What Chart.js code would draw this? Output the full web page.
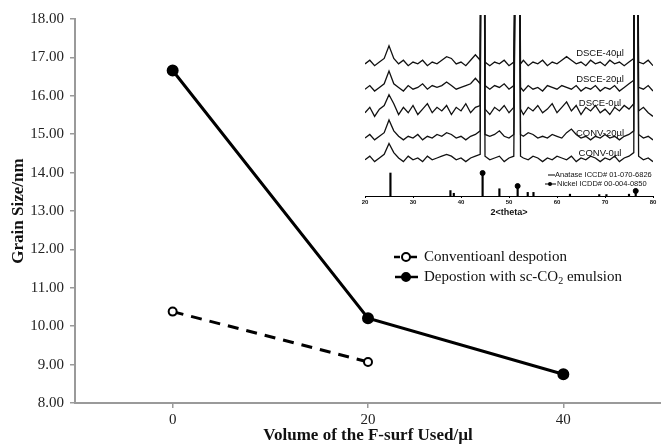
<!DOCTYPE html>
<html>
<head>
<meta charset="utf-8">
<script src="https://cdn.jsdelivr.net/npm/chart.js@4.4.1/dist/chart.umd.min.js"></script>
<style>
  body { margin: 0; background: #fff; }
  #wrap { position: relative; width: 661px; height: 446px; }
  #inset { position: absolute; left: 350px; top: 0; pointer-events: none; }
</style>
</head>
<body>
<div id="wrap">
  <canvas id="main" width="661" height="446"></canvas>
  <canvas id="inset" width="311" height="220"></canvas>
</div>
<script>
// main chart data
const volumes = ['0', '20', '40'];
const conventional = [10.38, 9.07, null];
const scCO2 = [16.66, 10.21, 8.75];

// inset XRD patterns (2theta in degrees, intensity in arbitrary units)
const theta = [20, 21, 22, 23, 24, 25, 26, 27, 28, 29, 30, 31, 32, 33, 34, 35, 36, 37, 38, 39,
  40, 41, 42, 43, 44, 44.2, 44.8, 45, 46, 47, 48, 49, 50, 51, 51.5, 52.1, 52.4, 53, 54, 55,
  56, 57, 58, 59, 60, 61, 62, 63, 64, 65, 66, 67, 68, 69, 70, 71, 72, 73, 74, 75,
  76, 76.1, 76.7, 77, 78, 79, 80];
const conv0 = [20, 22, 19, 21, 23, 29, 24, 21, 19, 22, 20, 21, 19, 22, 20, 21, 22, 23, 22, 20,
  21, 19, 21, 22, 23, 200, 200, 22, 20, 21, 22, 19, 21, 22, 200, 200, 22, 21, 20, 22,
  21, 19, 21, 20, 22, 21, 20, 22, 19, 21, 20, 22, 21, 19, 21, 20, 22, 19, 21, 22,
  24, 200, 200, 22, 20, 21, 19];
const conv20 = [32, 34, 31, 33, 35, 42, 36, 33, 31, 33, 32, 34, 31, 33, 32, 34, 33, 35, 34, 32,
  33, 31, 33, 34, 36, 200, 200, 34, 33, 34, 36, 33, 32, 34, 200, 200, 34, 33, 35, 34,
  32, 33, 32, 34, 33, 32, 35, 37, 34, 32, 33, 31, 33, 32, 34, 32, 33, 31, 33, 34,
  36, 200, 200, 34, 32, 33, 31];
const dsce0 = [46, 49, 44, 48, 50, 56, 51, 45, 49, 46, 50, 45, 48, 51, 46, 49, 47, 50, 45, 49,
  47, 51, 46, 49, 50, 200, 200, 48, 45, 49, 47, 50, 46, 49, 200, 200, 48, 45, 49, 47,
  50, 46, 48, 51, 46, 49, 52, 47, 50, 45, 49, 47, 50, 46, 48, 45, 49, 47, 50, 48,
  51, 200, 200, 47, 49, 46, 44];
const dsce20 = [59, 61, 58, 60, 62, 69, 62, 60, 58, 61, 59, 60, 62, 59, 61, 60, 61, 63, 61, 59,
  60, 61, 62, 65, 62, 200, 200, 61, 59, 61, 60, 62, 59, 61, 200, 200, 60, 58, 61, 59,
  60, 58, 61, 60, 59, 61, 60, 59, 61, 58, 60, 59, 61, 58, 60, 59, 61, 58, 60, 62,
  64, 200, 200, 60, 59, 61, 58];
const dsce40 = [73, 75, 72, 74, 76, 83, 76, 73, 75, 72, 74, 73, 75, 72, 74, 73, 75, 77, 76, 73,
  74, 72, 75, 78, 75, 200, 200, 74, 72, 74, 73, 75, 72, 74, 200, 200, 73, 75, 72, 74,
  73, 75, 72, 74, 73, 75, 77, 75, 73, 74, 72, 75, 73, 74, 72, 75, 73, 74, 72, 74,
  76, 200, 200, 74, 73, 75, 72];
const traceLabels = ['CONV-0µl', 'CONV-20µl', 'DSCE-0µl', 'DSCE-20µl', 'DSCE-40µl'];
const anataseAngles = [25.3, 37.8, 38.5, 48.0, 53.9, 55.1, 62.7, 68.8, 70.3, 75.0];
const anataseHeights = [12.7, 3, 1.5, 4, 2, 2, 1, 0.8, 0.8, 1];
const nickelAngles = [44.5, 51.8, 76.4];
const nickelHeights = [12.7, 5.5, 2.8];
const xrdTicks = [20, 30, 40, 50, 60, 70, 80];

const serif = "'Liberation Serif', 'Times New Roman', serif";
const sans = "'Liberation Sans', Arial, sans-serif";
const axisGrey = '#9a9a9a';

// legend drawn inside the plot area, right of the steep line
const cornerLegend = {
  id: 'cornerLegend',
  afterDraw(chart) {
    const ctx = chart.ctx;
    chart.data.datasets.forEach((ds, i) => {
      const y = 257 + i * 20;
      ctx.save();
      ctx.strokeStyle = '#000';
      ctx.lineWidth = 2.5;
      ctx.beginPath();
      if (ds.borderDash) {
        ctx.moveTo(394, y); ctx.lineTo(400, y);
        ctx.moveTo(410, y); ctx.lineTo(417, y);
      } else {
        ctx.moveTo(395, y); ctx.lineTo(418, y);
      }
      ctx.stroke();
      ctx.beginPath();
      ctx.arc(406, y, 4, 0, Math.PI * 2);
      ctx.fillStyle = ds.pointBackgroundColor;
      ctx.fill();
      ctx.lineWidth = 2;
      ctx.stroke();

      ctx.fillStyle = '#111';
      ctx.textBaseline = 'middle';
      ctx.font = '15px ' + serif;
      let x = 424;
      const parts = ds.label.split('CO2');
      ctx.fillText(parts[0], x, y);
      if (parts.length > 1) {
        x += ctx.measureText(parts[0] + 'CO').width;
        ctx.fillText('CO', x - ctx.measureText('CO').width, y);
        ctx.font = '10px ' + serif;
        ctx.fillText('2', x, y + 4);
        x += ctx.measureText('2').width;
        ctx.font = '15px ' + serif;
        ctx.fillText(parts[1], x, y);
      }
      ctx.restore();
    });
  }
};

new Chart(document.getElementById('main'), {
  type: 'line',
  data: {
    labels: volumes,
    datasets: [{
      label: 'Conventioanl despotion',
      data: conventional,
      borderColor: '#000',
      borderWidth: 3,
      borderDash: [11, 8],
      pointRadius: 4,
      pointBorderWidth: 2,
      pointBackgroundColor: '#fff',
      pointBorderColor: '#000'
    }, {
      label: 'Depostion with sc-CO2 emulsion',
      data: scCO2,
      borderColor: '#000',
      borderWidth: 3,
      pointRadius: 4.5,
      pointBackgroundColor: '#000',
      pointBorderColor: '#000'
    }]
  },
  options: {
    responsive: false,
    animation: false,
    layout: { autoPadding: false, padding: { top: 19, right: 0, left: 0, bottom: 0 } },
    plugins: { legend: { display: false }, tooltip: { enabled: false } },
    scales: {
      x: {
        offset: true,
        grid: { drawOnChartArea: false, tickLength: 5, color: axisGrey, lineWidth: 1.5 },
        border: { color: axisGrey, width: 2 },
        ticks: { font: { family: serif, size: 15 }, color: '#222', padding: 3 },
        title: {
          display: true,
          text: 'Volume of the F-surf Used/µl',
          font: { family: serif, size: 17, weight: 'bold' },
          color: '#111',
          padding: { top: 0, bottom: 0 }
        },
        afterFit(scale) { scale.height = 43; }
      },
      y: {
        min: 8,
        max: 18,
        ticks: {
          stepSize: 1,
          font: { family: serif, size: 15 },
          color: '#222',
          padding: 6,
          callback: v => v.toFixed(2)
        },
        grid: { drawOnChartArea: false, tickLength: 5, color: axisGrey, lineWidth: 1.5 },
        border: { color: axisGrey, width: 2 },
        title: {
          display: true,
          text: 'Grain Size/nm',
          font: { family: serif, size: 17, weight: 'bold' },
          color: '#111',
          padding: { top: 8, bottom: 0 }
        },
        afterFit(scale) { scale.width = 75; }
      }
    }
  },
  plugins: [cornerLegend]
});

// inset: sample labels and the reference-card legend
const insetText = {
  id: 'insetText',
  afterDraw(chart) {
    const ctx = chart.ctx;
    const labelY = [153, 133, 103, 79, 53];
    ctx.save();
    ctx.fillStyle = '#111';
    ctx.textAlign = 'center';
    ctx.textBaseline = 'middle';
    ctx.font = '9.5px ' + sans;
    traceLabels.forEach((t, i) => ctx.fillText(t, 250, labelY[i]));

    ctx.textAlign = 'left';
    ctx.font = '7.5px ' + sans;
    ctx.strokeStyle = '#000';
    ctx.lineWidth = 1.2;
    ctx.beginPath();
    ctx.moveTo(198, 175); ctx.lineTo(205, 175);
    ctx.moveTo(195, 184); ctx.lineTo(206, 184);
    ctx.stroke();
    ctx.beginPath();
    ctx.arc(200, 184, 2, 0, Math.PI * 2);
    ctx.fillStyle = '#000';
    ctx.fill();
    ctx.fillStyle = '#111';
    ctx.fillText('Anatase ICCD# 01-070-6826', 205, 175);
    ctx.fillText('Nickel ICDD# 00-004-0850', 207, 184);
    ctx.restore();
  }
};

const patterns = [conv0, conv20, dsce0, dsce20, dsce40];
const traceSets = patterns.map((p, i) => ({
  type: 'line',
  label: traceLabels[i],
  data: theta.map((t, j) => ({ x: t, y: p[j] })),
  borderColor: '#111',
  borderWidth: 1.3,
  pointRadius: 0,
  tension: 0
}));

new Chart(document.getElementById('inset'), {
  data: {
    datasets: [
      ...traceSets,
      {
        type: 'bar',
        label: 'Anatase',
        data: anataseAngles.map((a, i) => ({ x: a, y: anataseHeights[i] })),
        backgroundColor: '#000',
        barThickness: 1.5,
        grouped: false
      },
      {
        type: 'bar',
        label: 'Nickel',
        data: nickelAngles.map((a, i) => ({ x: a, y: nickelHeights[i] })),
        backgroundColor: '#000',
        barThickness: 1.5,
        grouped: false
      },
      {
        type: 'scatter',
        label: 'Nickel markers',
        data: nickelAngles.map((a, i) => ({ x: a, y: nickelHeights[i] })),
        pointRadius: 2.5,
        pointBackgroundColor: '#000',
        pointBorderColor: '#000'
      }
    ]
  },
  options: {
    responsive: false,
    animation: false,
    layout: { autoPadding: false, padding: { top: 15, left: 15, right: 8, bottom: 0 } },
    plugins: { legend: { display: false }, tooltip: { enabled: false } },
    scales: {
      x: {
        type: 'linear',
        offset: false,
        min: 20,
        max: 80,
        afterBuildTicks(scale) { scale.ticks = xrdTicks.map(v => ({ value: v })); },
        grid: { offset: false, drawOnChartArea: false, tickLength: 2, color: '#000' },
        border: { color: '#000', width: 1 },
        ticks: { font: { family: sans, size: 6, weight: 'bold' }, color: '#111', padding: 1, maxRotation: 0 },
        title: {
          display: true,
          text: '2<theta>',
          font: { family: sans, size: 9, weight: 'bold' },
          color: '#111',
          padding: { top: 0, bottom: 2 }
        },
        afterFit(scale) { scale.height = 24; }
      },
      y: { display: false, min: 0, max: 100 }
    }
  },
  plugins: [insetText]
});
</script>
</body>
</html>
